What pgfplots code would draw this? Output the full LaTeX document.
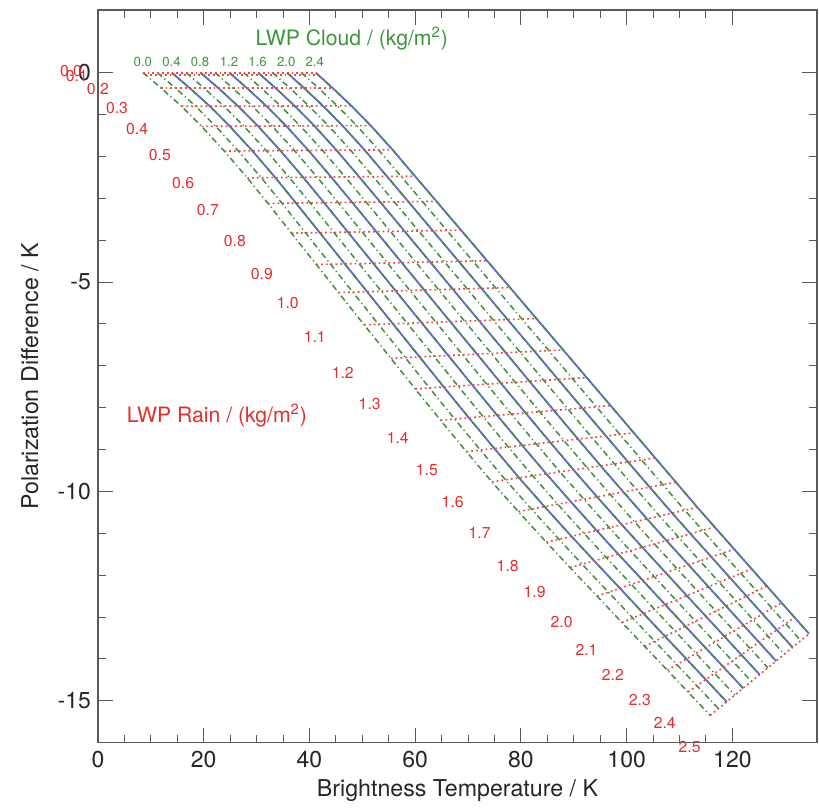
\documentclass[border=0pt]{standalone}
\usepackage{fontspec}
\setmainfont{TeX Gyre Heros}
\usepackage{pgfplots}
\usepackage{pgfplotstable}
\pgfplotsset{compat=1.18}
\definecolor{cblue}{RGB}{100,100,235}
\definecolor{cgreen}{RGB}{60,145,60}
\definecolor{cred}{RGB}{240,70,70}
\definecolor{tgreen}{RGB}{60,150,60}
\definecolor{tred}{RGB}{230,45,45}
\definecolor{frame}{RGB}{90,90,90}

% one row per rain LWP level j (0.0 ... 2.5 step 0.1);
% x<i>, y<i> = point of cloud LWP level i (0.0 ... 2.4 step 0.2)
\pgfplotstableread{
j x0 y0 x1 y1 x2 y2 x3 y3 x4 y4 x5 y5 x6 y6 x7 y7 x8 y8 x9 y9 x10 y10 x11 y11 x12 y12
0 8.50 0 11.23 0 13.95 0 16.68 0 19.40 0 22.13 0 24.85 0 27.58 0 30.30 0 33.03 0 35.75 0 38.48 0 41.20 0
1 9.00 -0.05 11.72 -0.05 14.44 -0.05 17.16 -0.05 19.88 -0.05 22.61 -0.05 25.33 -0.05 28.05 -0.05 30.77 -0.05 33.49 -0.05 36.21 -0.05 38.93 -0.05 41.65 -0.05
2 11.90 -0.36 14.61 -0.36 17.31 -0.36 20.02 -0.36 22.72 -0.36 25.43 -0.36 28.13 -0.36 30.84 -0.36 33.54 -0.36 36.25 -0.36 38.95 -0.36 41.66 -0.36 44.36 -0.36
3 15.80 -0.800 18.48 -0.799 21.16 -0.798 23.83 -0.798 26.51 -0.797 29.19 -0.796 31.87 -0.795 34.55 -0.794 37.22 -0.793 39.90 -0.793 42.58 -0.792 45.26 -0.791 47.94 -0.790
4 19.60 -1.280 22.27 -1.278 24.93 -1.277 27.60 -1.275 30.26 -1.273 32.93 -1.272 35.60 -1.270 38.26 -1.268 40.93 -1.267 43.59 -1.265 46.26 -1.263 48.93 -1.262 51.59 -1.260
5 23.90 -1.870 26.55 -1.868 29.21 -1.865 31.86 -1.863 34.51 -1.860 37.16 -1.858 39.82 -1.855 42.47 -1.853 45.12 -1.850 47.77 -1.848 50.43 -1.845 53.08 -1.843 55.73 -1.840
6 28.25 -2.510 30.89 -2.507 33.54 -2.503 36.18 -2.500 38.82 -2.497 41.47 -2.493 44.11 -2.490 46.75 -2.487 49.39 -2.483 52.04 -2.480 54.68 -2.477 57.32 -2.473 59.97 -2.470
7 32.15 -3.120 34.81 -3.116 37.46 -3.112 40.12 -3.108 42.77 -3.103 45.43 -3.099 48.09 -3.095 50.74 -3.091 53.40 -3.087 56.05 -3.083 58.71 -3.078 61.37 -3.074 64.02 -3.070
8 36.60 -3.830 39.27 -3.824 41.95 -3.818 44.62 -3.813 47.29 -3.807 49.97 -3.801 52.64 -3.795 55.31 -3.789 57.98 -3.783 60.66 -3.778 63.33 -3.772 66.00 -3.766 68.68 -3.760
9 41.30 -4.580 43.99 -4.573 46.69 -4.565 49.38 -4.558 52.07 -4.550 54.76 -4.543 57.46 -4.535 60.15 -4.528 62.84 -4.520 65.53 -4.513 68.23 -4.505 70.92 -4.498 73.61 -4.490
10 45.50 -5.25 48.20 -5.24 50.91 -5.23 53.61 -5.22 56.31 -5.21 59.01 -5.20 61.72 -5.19 64.42 -5.18 67.12 -5.17 69.82 -5.16 72.53 -5.15 75.23 -5.14 77.93 -5.13
11 50.35 -6.020 53.06 -6.008 55.78 -5.995 58.49 -5.983 61.21 -5.970 63.92 -5.958 66.63 -5.945 69.35 -5.933 72.06 -5.920 74.78 -5.908 77.49 -5.895 80.20 -5.883 82.92 -5.870
12 55.40 -6.820 58.12 -6.803 60.83 -6.787 63.55 -6.770 66.26 -6.753 68.98 -6.737 71.70 -6.720 74.41 -6.703 77.13 -6.687 79.84 -6.670 82.56 -6.653 85.28 -6.637 87.99 -6.620
13 60.00 -7.550 62.70 -7.528 65.41 -7.505 68.11 -7.483 70.81 -7.460 73.52 -7.438 76.22 -7.415 78.92 -7.393 81.62 -7.370 84.33 -7.348 87.03 -7.325 89.73 -7.303 92.44 -7.280
14 64.80 -8.300 67.48 -8.271 70.16 -8.242 72.84 -8.213 75.52 -8.183 78.20 -8.154 80.88 -8.125 83.56 -8.096 86.24 -8.067 88.92 -8.038 91.60 -8.008 94.28 -7.979 96.96 -7.950
15 69.70 -9.050 72.34 -9.013 74.98 -8.975 77.61 -8.938 80.25 -8.900 82.89 -8.863 85.53 -8.825 88.16 -8.788 90.80 -8.750 93.44 -8.713 96.08 -8.675 98.71 -8.638 101.35 -8.600
16 74.50 -9.770 77.08 -9.723 79.65 -9.675 82.23 -9.628 84.80 -9.580 87.38 -9.533 89.95 -9.485 92.53 -9.438 95.10 -9.390 97.68 -9.343 100.25 -9.295 102.83 -9.248 105.40 -9.200
17 79.50 -10.480 81.99 -10.422 84.47 -10.363 86.96 -10.305 89.44 -10.247 91.93 -10.188 94.41 -10.130 96.90 -10.072 99.38 -10.013 101.87 -9.955 104.35 -9.897 106.84 -9.838 109.32 -9.780
18 84.80 -11.210 87.18 -11.141 89.56 -11.072 91.94 -11.003 94.32 -10.933 96.71 -10.864 99.09 -10.795 101.47 -10.726 103.85 -10.657 106.23 -10.588 108.61 -10.518 110.99 -10.449 113.37 -10.380
19 89.30 -11.820 91.58 -11.739 93.86 -11.658 96.13 -11.578 98.41 -11.497 100.69 -11.416 102.97 -11.335 105.25 -11.254 107.52 -11.173 109.80 -11.093 112.08 -11.012 114.36 -10.931 116.64 -10.850
20 94.40 -12.500 96.56 -12.407 98.73 -12.313 100.89 -12.220 103.05 -12.127 105.21 -12.033 107.38 -11.940 109.54 -11.847 111.70 -11.753 113.86 -11.660 116.03 -11.567 118.19 -11.473 120.35 -11.380
21 99.10 -13.130 101.15 -13.023 103.19 -12.917 105.24 -12.810 107.28 -12.703 109.33 -12.597 111.37 -12.490 113.42 -12.383 115.46 -12.277 117.51 -12.170 119.55 -12.063 121.60 -11.957 123.64 -11.850
22 103.40 -13.70 105.33 -13.58 107.25 -13.46 109.18 -13.34 111.10 -13.22 113.03 -13.10 114.96 -12.98 116.88 -12.86 118.81 -12.74 120.73 -12.62 122.66 -12.50 124.59 -12.38 126.51 -12.26
23 107.70 -14.270 109.50 -14.136 111.30 -14.002 113.10 -13.868 114.90 -13.733 116.71 -13.599 118.51 -13.465 120.31 -13.331 122.11 -13.197 123.91 -13.063 125.71 -12.928 127.51 -12.794 129.31 -12.660
24 111.60 -14.790 113.28 -14.642 114.96 -14.493 116.64 -14.345 118.32 -14.197 120.00 -14.048 121.68 -13.900 123.36 -13.752 125.04 -13.603 126.72 -13.455 128.40 -13.307 130.08 -13.158 131.76 -13.010
25 115.80 -15.350 117.36 -15.188 118.92 -15.025 120.47 -14.863 122.03 -14.700 123.59 -14.538 125.15 -14.375 126.71 -14.213 128.26 -14.050 129.82 -13.888 131.38 -13.725 132.94 -13.563 134.50 -13.400
}\grid

\begin{document}
\begin{tikzpicture}
\begin{axis}[
  name=ax,
  scale only axis, width=359.7pt, height=366.5pt,
  xmin=0, xmax=136, ymin=-16, ymax=1.5,
  clip=false,
  xtick={0,20,40,60,80,100,120},
  xticklabels={0,20,40,60,80,100,120},
  minor x tick num=3,
  ytick={-15,-10,-5,0},
  yticklabels={-15,-10,-5,0},
  minor y tick num=4,
  tick align=inside,
  major tick length=7.5pt, minor tick length=4pt,
  axis line style={frame, line width=0.6pt},
  every tick/.style={frame, line width=0.5pt},
  ticklabel style={font=\fontsize{11.5}{13.8}\selectfont, text=black!85},
  xticklabel style={yshift=-1pt},
  label style={font=\fontsize{11.6}{14}\selectfont, text=black!85},
  xlabel={Brightness Temperature / K},
  ylabel={Polarization Difference / K},
  xlabel style={at={(axis description cs:0.5,-0.0655)}, anchor=center},
  ylabel style={at={(axis description cs:-0.0946,0.5)}, anchor=center},
]
% blue solid: cloud LWP 0.4 ... 2.4
\pgfplotsinvokeforeach{2,4,6,8,10,12}{
  \addplot[cblue, line width=0.9pt] table[x=x#1, y=y#1] {\grid};
}
% green dash-dot: all cloud LWP values
\pgfplotsinvokeforeach{0,1,2,3,4,5,6,7,8,9,10,11,12}{
  \addplot[cgreen, line width=0.75pt, dash pattern=on 3pt off 1.6pt on 0.6pt off 1.6pt] table[x=x#1, y=y#1] {\grid};
}
% red dotted: rain LWP values (from the cloud 0.0 point to the cloud 2.4 point of each row)
\addplot[cred, line width=0.8pt, dash pattern=on 0.9pt off 1.5pt,
  quiver={u=\thisrow{x12}-\thisrow{x0}, v=\thisrow{y12}-\thisrow{y0}}]
  table[x=x0, y=y0] {\grid};

% cloud labels
\node[text=tgreen, font=\fontsize{10.6}{12}\selectfont] at (axis cs:48.0,0.81) {LWP Cloud / (kg/m\textsuperscript{2})};
\node[text=tgreen, font=\fontsize{6.6}{8}\selectfont] at (axis cs:8.5,0.26) {0.0};
\node[text=tgreen, font=\fontsize{6.6}{8}\selectfont] at (axis cs:13.9,0.26) {0.4};
\node[text=tgreen, font=\fontsize{6.6}{8}\selectfont] at (axis cs:19.3,0.26) {0.8};
\node[text=tgreen, font=\fontsize{6.6}{8}\selectfont] at (axis cs:24.8,0.26) {1.2};
\node[text=tgreen, font=\fontsize{6.6}{8}\selectfont] at (axis cs:30.2,0.26) {1.6};
\node[text=tgreen, font=\fontsize{6.6}{8}\selectfont] at (axis cs:35.6,0.26) {2.0};
\node[text=tgreen, font=\fontsize{6.6}{8}\selectfont] at (axis cs:41.0,0.26) {2.4};

% rain labels
\node[text=tred, font=\fontsize{10.6}{12}\selectfont] at (axis cs:22.5,-8.19) {LWP Rain / (kg/m\textsuperscript{2})};
\begin{scope}[every node/.style={text=tred, font=\fontsize{7.9}{9}\selectfont}]
\node at (axis cs:-5.1,0.05) {0.0};
\node at (axis cs:-4.0,-0.07) {0.1};
\node at (axis cs:0.0,-0.38) {0.2};
\node at (axis cs:3.6,-0.84) {0.3};
\node at (axis cs:7.4,-1.34) {0.4};
\node at (axis cs:11.7,-1.96) {0.5};
\node at (axis cs:16.1,-2.63) {0.6};
\node at (axis cs:20.8,-3.27) {0.7};
\node at (axis cs:25.9,-4.01) {0.8};
\node at (axis cs:31.0,-4.80) {0.9};
\node at (axis cs:35.9,-5.51) {1.0};
\node at (axis cs:41.0,-6.32) {1.1};
\node at (axis cs:46.3,-7.16) {1.2};
\node at (axis cs:51.4,-7.92) {1.3};
\node at (axis cs:56.7,-8.71) {1.4};
\node at (axis cs:62.2,-9.50) {1.5};
\node at (axis cs:67.1,-10.26) {1.6};
\node at (axis cs:72.2,-11.00) {1.7};
\node at (axis cs:77.5,-11.77) {1.8};
\node at (axis cs:82.6,-12.41) {1.9};
\node at (axis cs:87.7,-13.13) {2.0};
\node at (axis cs:92.4,-13.79) {2.1};
\node at (axis cs:97.4,-14.39) {2.2};
\node at (axis cs:102.5,-14.99) {2.3};
\node at (axis cs:107.2,-15.54) {2.4};
\node at (axis cs:111.9,-16.11) {2.5};
\end{scope}
\end{axis}
\pgfresetboundingbox
\path[use as bounding box] ([xshift=-49pt,yshift=-32.5pt]ax.south west) rectangle ([xshift=1pt,yshift=5pt]ax.north east);
\end{tikzpicture}
\end{document}
